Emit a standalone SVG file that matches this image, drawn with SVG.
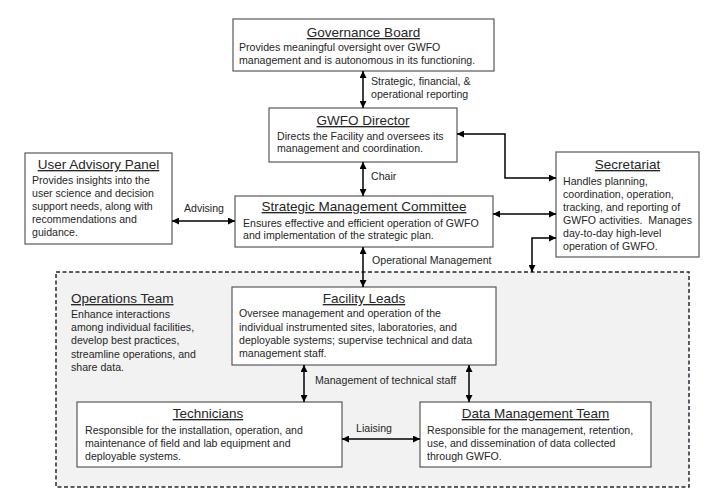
<svg xmlns="http://www.w3.org/2000/svg" width="727" height="501" viewBox="0 0 727 501">
<defs>
<marker id="ah" viewBox="0 0 8 8" refX="8" refY="4" markerWidth="7" markerHeight="7" markerUnits="userSpaceOnUse" orient="auto-start-reverse">
<path d="M0,0 L8,4 L0,8 z" fill="#000"/>
</marker>
</defs>
<style>
.box{fill:#fff;stroke:#595959;stroke-width:1.2}
.t{font-family:"Liberation Sans",Arial,sans-serif;font-size:13.5px;fill:#262626;text-anchor:middle;text-decoration:underline}
.b{font-family:"Liberation Sans",Arial,sans-serif;font-size:10.6px;fill:#262626;white-space:pre}
.c{fill:none;stroke:#000;stroke-width:1.5;marker-start:url(#ah);marker-end:url(#ah)}
.l{font-family:"Liberation Sans",Arial,sans-serif;font-size:10.6px;fill:#262626}
</style>
<rect width="727" height="501" fill="#fff"/>
<g id="ops-area">
<rect x="56" y="272" width="633" height="215" fill="#f2f2f2" stroke="#222a35" stroke-width="1.5" stroke-dasharray="4,2.5"/>
</g>
<g id="governance-board">
<rect class="box" x="233" y="19" width="261" height="52"/>
<text class="t" x="363.5" y="37">Governance Board</text>
<text class="b" x="239" y="51">Provides meaningful oversight over GWFO</text>
<text class="b" x="239" y="64">management and is autonomous in its functioning.</text>
</g>
<g id="gwfo-director">
<rect class="box" x="269" y="108" width="188" height="54"/>
<text class="t" x="363" y="125">GWFO Director</text>
<text class="b" x="277" y="140">Directs the Facility and oversees its</text>
<text class="b" x="277" y="152">management and coordination.</text>
</g>
<g id="user-advisory-panel">
<rect class="box" x="25" y="153" width="147" height="91"/>
<text class="t" x="98.5" y="169">User Advisory Panel</text>
<text class="b" x="32" y="184">Provides insights into the</text>
<text class="b" x="32" y="197">user science and decision</text>
<text class="b" x="32" y="210">support needs, along with</text>
<text class="b" x="32" y="223">recommendations and</text>
<text class="b" x="32" y="236">guidance.</text>
</g>
<g id="strategic-management-committee">
<rect class="box" x="235" y="196" width="258" height="51"/>
<text class="t" x="364" y="211">Strategic Management Committee</text>
<text class="b" x="243" y="227">Ensures effective and efficient operation of GWFO</text>
<text class="b" x="243" y="239">and implementation of the strategic plan.</text>
</g>
<g id="secretariat">
<rect class="box" x="556" y="152" width="143" height="105"/>
<text class="t" x="627.5" y="169">Secretariat</text>
<text class="b" x="563" y="185">Handles planning,</text>
<text class="b" x="563" y="198">coordination, operation,</text>
<text class="b" x="563" y="211">tracking, and reporting of</text>
<text class="b" x="563" y="224" xml:space="preserve">GWFO activities.  Manages</text>
<text class="b" x="563" y="237">day-to-day high-level</text>
<text class="b" x="563" y="250">operation of GWFO.</text>
</g>
<g id="operations-team">
<text class="t" x="71" y="303" style="text-anchor:start">Operations Team</text>
<text class="b" x="71" y="318">Enhance interactions</text>
<text class="b" x="71" y="331">among individual facilities,</text>
<text class="b" x="71" y="344">develop best practices,</text>
<text class="b" x="71" y="358">streamline operations, and</text>
<text class="b" x="71" y="371">share data.</text>
</g>
<g id="facility-leads">
<rect class="box" x="232" y="287" width="264" height="78"/>
<text class="t" x="364" y="303">Facility Leads</text>
<text class="b" x="239" y="317">Oversee management and operation of the</text>
<text class="b" x="239" y="331">individual instrumented sites, laboratories, and</text>
<text class="b" x="239" y="344">deployable systems; supervise technical and data</text>
<text class="b" x="239" y="357">management staff.</text>
</g>
<g id="technicians">
<rect class="box" x="77" y="402" width="265" height="65"/>
<text class="t" x="208" y="418">Technicians</text>
<text class="b" x="85" y="434">Responsible for the installation, operation, and</text>
<text class="b" x="85" y="447">maintenance of field and lab equipment and</text>
<text class="b" x="85" y="460">deployable systems.</text>
</g>
<g id="data-management-team">
<rect class="box" x="420" y="402" width="231" height="65"/>
<text class="t" x="535.5" y="418">Data Management Team</text>
<text class="b" x="427" y="434">Responsible for the management, retention,</text>
<text class="b" x="427" y="447">use, and dissemination of data collected</text>
<text class="b" x="427" y="460">through GWFO.</text>
</g>
<g id="connectors">
<line class="c" x1="363" y1="71" x2="363" y2="108"/>
<path class="c" d="M457,134 H505 V178 H556"/>
<line class="c" x1="363" y1="162" x2="363" y2="196"/>
<line class="c" x1="172" y1="221" x2="235" y2="221"/>
<line class="c" x1="493" y1="214" x2="556" y2="214"/>
<path class="c" d="M556,238 H532 V272"/>
<line class="c" x1="363" y1="247" x2="363" y2="287"/>
<line class="c" x1="304" y1="365" x2="304" y2="402"/>
<line class="c" x1="469" y1="365" x2="469" y2="402"/>
<line class="c" x1="342" y1="439" x2="420" y2="439"/>
<text class="l" x="371" y="85">Strategic, financial, &amp;</text>
<text class="l" x="371" y="98">operational reporting</text>
<text class="l" x="371" y="180">Chair</text>
<text class="l" x="204" y="212" text-anchor="middle">Advising</text>
<text class="l" x="372" y="264">Operational Management</text>
<text class="l" x="315" y="384">Management of technical staff</text>
<text class="l" x="374" y="432" text-anchor="middle">Liaising</text>
</g>
</svg>
